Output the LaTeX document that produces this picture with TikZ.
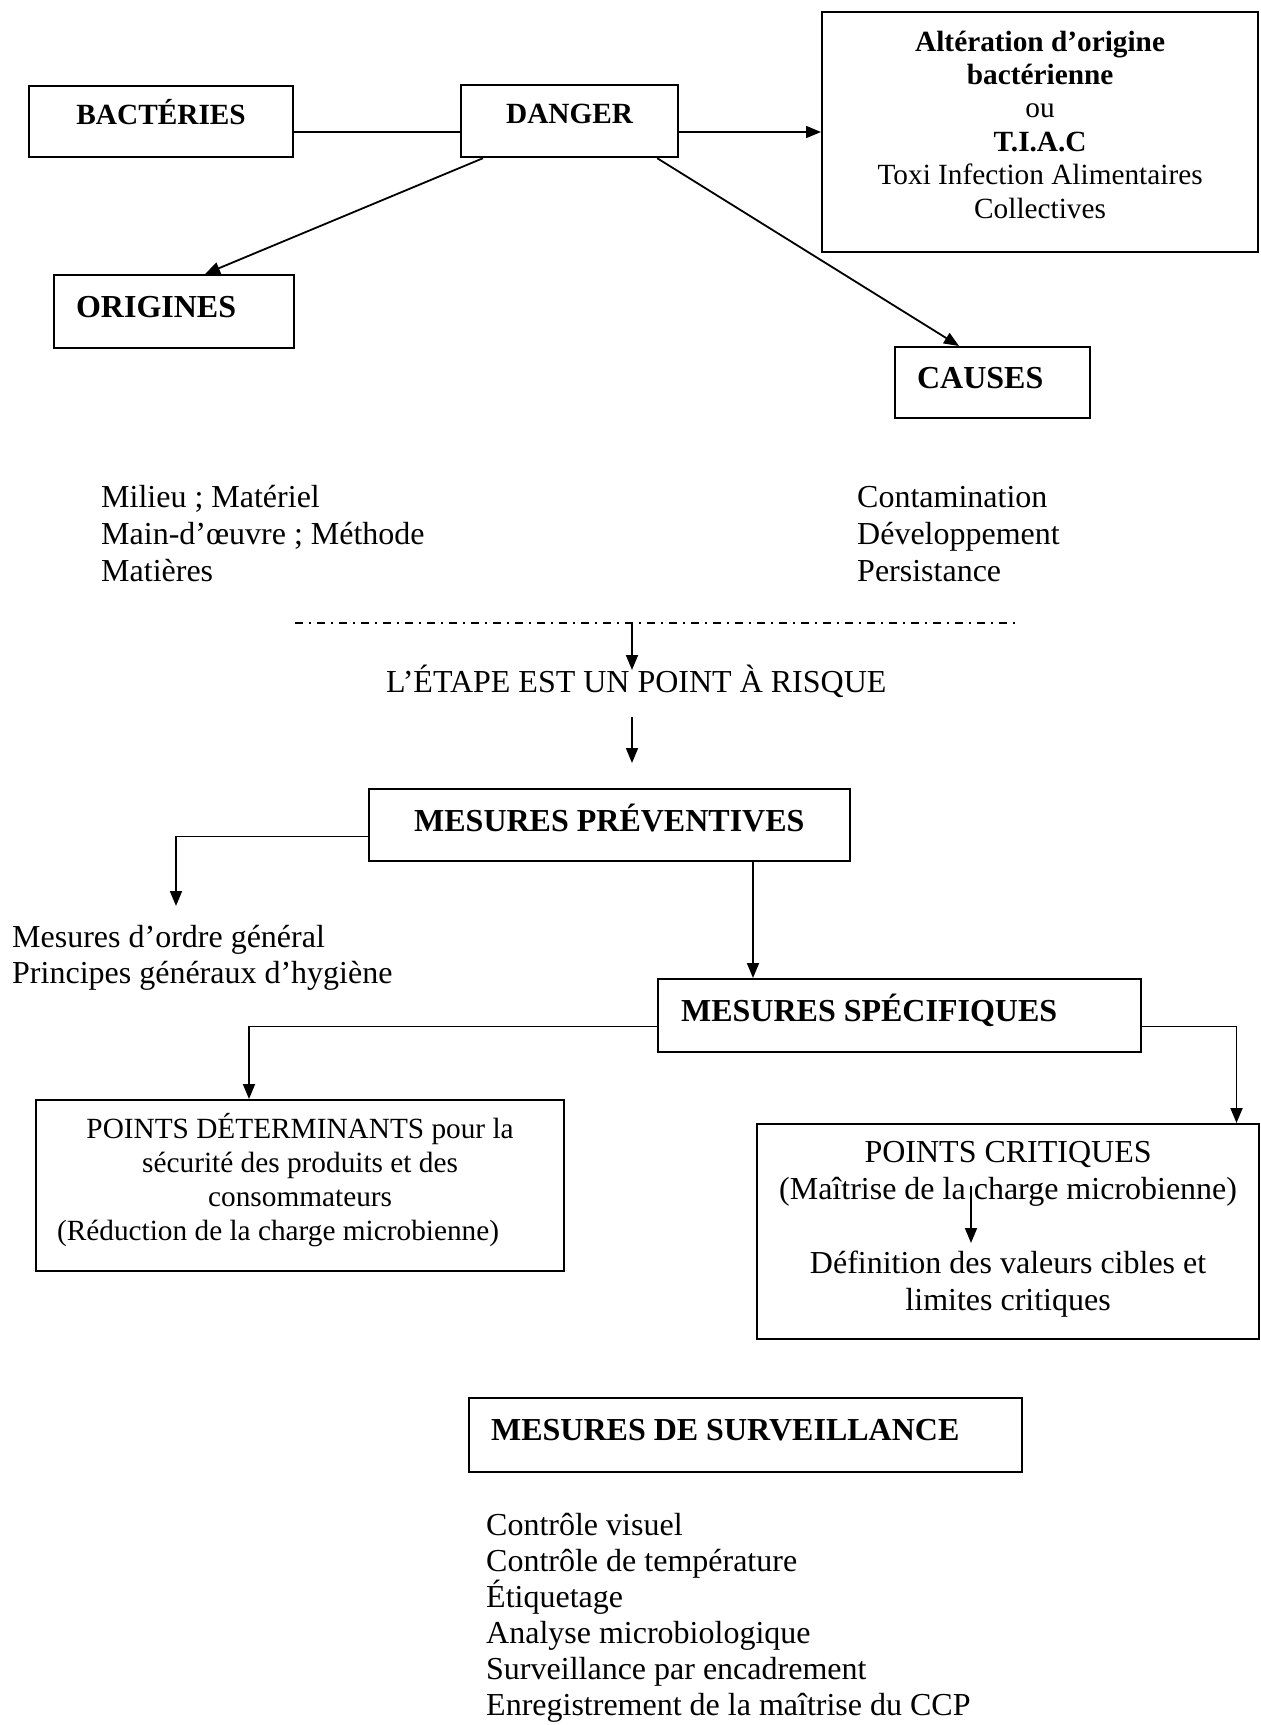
\documentclass[tikz,border=0pt]{standalone}
\usepackage{fontspec}
\setmainfont{Liberation Serif}
\usetikzlibrary{arrows.meta,calc}
\tikzset{
  bx/.style={draw, line width=2.2pt, inner ysep=0pt, inner xsep=0pt, anchor=north west},
  con/.style={line width=1.8pt},
  arr/.style={con, -{Triangle[length=15pt,width=12pt]}},
  fbig/.style={font=\fontsize{32}{37}\selectfont},
  fbigb/.style={font=\fontsize{32}{37}\selectfont\bfseries},
  fsmall/.style={font=\fontsize{29.3}{33.4}\selectfont},
  fsmallb/.style={font=\fontsize{29.3}{33.4}\selectfont\bfseries},
  fdet/.style={font=\fontsize{29.3}{34}\selectfont},
  txt/.style={inner sep=0pt, anchor=base west, align=flush left},
  dashdot line/.style={line width=2.2pt, dash pattern=on 8pt off 5.5pt on 2.5pt off 6pt},
}
\begin{document}
\begin{tikzpicture}[x=1pt,y=-1pt]
\useasboundingbox (0,0) rectangle (1261,1725);

% boxes
\node[bx, fsmallb, text width=264pt, align=flush center, text height=38pt, text depth=33pt] (bact) at (28,85) {BACTÉRIES};
\node[bx, fsmallb, text width=217pt, align=flush center, text height=38.5pt, text depth=33.5pt] (danger) at (460,84) {DANGER};
\node[bx, fsmall, text width=436pt, align=flush center, text height=39pt, text depth=201pt] (alt) at (821,11)
  {\textbf{Altération d’origine}\\\textbf{bactérienne}\\ou\\\textbf{T.I.A.C}\\Toxi Infection Alimentaires\\Collectives};
\node[bx, fbigb, inner xsep=22pt, text width=196pt, align=flush left, text height=42pt, text depth=30.5pt] (orig) at (53,274) {ORIGINES};
\node[bx, fbigb, inner xsep=22pt, text width=151pt, align=flush left, text height=41pt, text depth=30pt] (causes) at (894,346) {CAUSES};
\node[bx, fbigb, text width=480.5pt, align=flush center, text height=42pt, text depth=30pt] (prev) at (368,788) {MESURES PRÉVENTIVES};
\node[bx, fbigb, inner xsep=23pt, text width=437pt, align=flush left, text height=42pt, text depth=31pt] (spec) at (657,978) {MESURES SPÉCIFIQUES};
\node[bx, fdet, text width=528pt, align=flush center, text height=38pt, text depth=133pt] (detm) at (35,1099)
  {POINTS DÉTERMINANTS pour la\\sécurité des produits et des\\consommateurs\\(Réduction de la charge microbienne)\rule{44pt}{0pt}};
\node[bx, fbig, text width=502pt, align=flush center, text height=38pt, text depth=177pt] (crit) at (756,1123)
  {POINTS CRITIQUES\\(Maîtrise de la charge microbienne)\\[37pt]Définition des valeurs cibles et\\limites critiques};
\node[bx, fbigb, inner xsep=22pt, text width=509pt, align=flush left, text height=42pt, text depth=32pt] (surv) at (468,1397) {MESURES DE SURVEILLANCE};

% free texts
\node[txt, fbig, text width=420pt] (milieu) at (101,507) {Milieu ; Matériel\\Main-d’œuvre ; Méthode\\Matières};
\node[txt, fbig, text width=300pt] (contam) at (857,507) {Contamination\\Développement\\Persistance};
\node[txt, fbig] (etape) at (386,692) {L’ÉTAPE EST UN POINT À RISQUE};
\node[txt, font=\fontsize{32}{36}\selectfont, text width=500pt] (mesgen) at (12,947) {Mesures d’ordre général\\Principes généraux d’hygiène};
\node[txt, font=\fontsize{32}{36}\selectfont, text width=700pt] (survl) at (486,1535)
  {Contrôle visuel\\Contrôle de température\\Étiquetage\\Analyse microbiologique\\Surveillance par encadrement\\Enregistrement de la maîtrise du CCP};

% connectors
\coordinate (yA) at (0,132);
\draw[con] (bact.east |- yA) -- (danger.west |- yA);
\draw[arr] (danger.east |- yA) -- (alt.west |- yA);
\draw[arr] ($(danger.south west)+(23,0)$) -- ($(orig.north west)+(152,0)$);
\draw[arr] ($(danger.south east)+(-22,0)$) -- ($(causes.north west)+(65,0)$);

\coordinate (d1) at (295,623);
\coordinate (d2) at (1015,623);
\draw[dashdot line] (d1) -- (d2);
\coordinate (dm) at (632,623);
\coordinate (e1) at (632,670);
\draw[arr] (dm) -- (e1);
\coordinate (e2) at (632,717);
\coordinate (e3) at (632,763);
\draw[arr] (e2) -- (e3);

\coordinate (yP) at (0,836.5);
\coordinate (gen) at (176,906);
\draw[arr] (prev.west |- yP) -| (gen);
\coordinate (xP) at (753,0);
\draw[arr] (xP |- prev.south) -- (xP |- spec.north);
\coordinate (yS) at (0,1026.5);
\coordinate (xL) at (249,0);
\coordinate (xR) at (1236.5,0);
\draw[arr] (spec.west |- yS) -| (xL |- detm.north);
\draw[arr] (spec.east |- yS) -| (xR |- crit.north);
\coordinate (c1) at (971,1186);
\coordinate (c2) at (971,1243);
\draw[arr] (c1) -- (c2);
\end{tikzpicture}
\end{document}
